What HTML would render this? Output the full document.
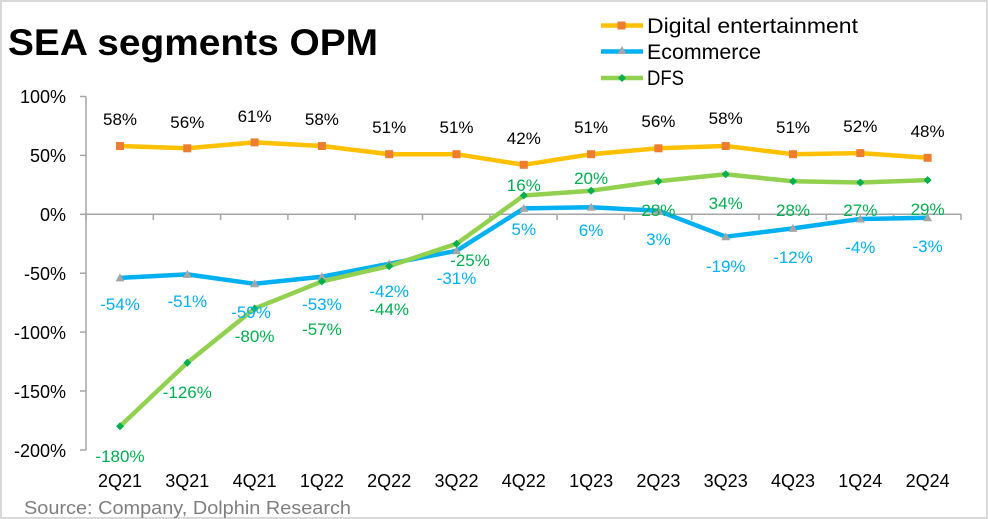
<!DOCTYPE html>
<html><head><meta charset="utf-8"><style>
html,body{margin:0;padding:0;background:#fff}
svg{display:block}
text{font-family:"Liberation Sans",sans-serif}
</style></head><body>
<svg width="988" height="519" viewBox="0 0 988 519" xmlns="http://www.w3.org/2000/svg">
<rect x="1" y="1" width="986" height="517" fill="#fff" stroke="#d9d9d9" stroke-width="2"/>
<text x="8" y="55" font-size="37" font-weight="bold" fill="#000" textLength="370" lengthAdjust="spacingAndGlyphs">SEA segments OPM</text>
<g stroke="#a6a6a6" stroke-width="1.5" fill="none">
<line x1="86" y1="96.5" x2="86" y2="450"/>
<line x1="80" y1="96.5" x2="86" y2="96.5"/>
<line x1="80" y1="155.4" x2="86" y2="155.4"/>
<line x1="80" y1="214.3" x2="86" y2="214.3"/>
<line x1="80" y1="273.2" x2="86" y2="273.2"/>
<line x1="80" y1="332.1" x2="86" y2="332.1"/>
<line x1="80" y1="391" x2="86" y2="391"/>
<line x1="80" y1="450" x2="86" y2="450"/>
<line x1="86" y1="214.3" x2="961" y2="214.3"/>
<path d="M86 214v6M153.3 214v6M220.6 214v6M287.9 214v6M355.2 214v6M422.5 214v6M489.8 214v6M557.1 214v6M624.4 214v6M691.7 214v6M759 214v6M826.3 214v6M893.6 214v6M961 214v6"/>
</g>
<g font-size="18" fill="#000" text-anchor="end">
<text x="66" y="103">100%</text><text x="66" y="162">50%</text><text x="66" y="221">0%</text>
<text x="66" y="280">-50%</text><text x="66" y="339">-100%</text><text x="66" y="398">-150%</text><text x="66" y="457">-200%</text>
</g>
<g font-size="18" fill="#000" text-anchor="middle">
<text x="120" y="487">2Q21</text><text x="187.3" y="487">3Q21</text><text x="254.6" y="487">4Q21</text><text x="321.9" y="487">1Q22</text><text x="389.2" y="487">2Q22</text><text x="456.5" y="487">3Q22</text><text x="523.8" y="487">4Q22</text><text x="591.1" y="487">1Q23</text><text x="658.4" y="487">2Q23</text><text x="725.7" y="487">3Q23</text><text x="793" y="487">4Q23</text><text x="860.3" y="487">1Q24</text><text x="927.6" y="487">2Q24</text>
</g>
<text x="24" y="514" font-size="18" fill="#7f7f7f" textLength="327" lengthAdjust="spacingAndGlyphs">Source: Company, Dolphin Research</text>
<polyline fill="none" stroke="#ffc000" stroke-width="4.5" stroke-linejoin="round" points="120,146 187.3,148.3 254.6,142.4 321.9,146 389.2,154.2 456.5,154.2 523.8,164.8 591.1,154.2 658.4,148.3 725.7,146 793,154.2 860.3,153.1 927.6,157.8"/>
<polyline fill="none" stroke="#00b0f0" stroke-width="4.5" stroke-linejoin="round" points="120,277.9 187.3,274.4 254.6,283.8 321.9,276.7 389.2,263.8 456.5,250.8 523.8,208.4 591.1,207.2 658.4,210.8 725.7,236.7 793,228.4 860.3,219 927.6,217.8"/>
<polyline fill="none" stroke="#92d050" stroke-width="4.5" stroke-linejoin="round" points="120,426.3 187.3,362.7 254.6,308.5 321.9,281.4 389.2,266.1 456.5,243.8 523.8,195.5 591.1,190.7 658.4,181.3 725.7,174.3 793,181.3 860.3,182.5 927.6,180.1"/>
<g fill="#ed7d31">
<rect x="116" y="142" width="8" height="8"/><rect x="183.3" y="144.3" width="8" height="8"/><rect x="250.6" y="138.4" width="8" height="8"/><rect x="317.9" y="142" width="8" height="8"/><rect x="385.2" y="150.2" width="8" height="8"/><rect x="452.5" y="150.2" width="8" height="8"/><rect x="519.8" y="160.8" width="8" height="8"/><rect x="587.1" y="150.2" width="8" height="8"/><rect x="654.4" y="144.3" width="8" height="8"/><rect x="721.7" y="142" width="8" height="8"/><rect x="789" y="150.2" width="8" height="8"/><rect x="856.3" y="149.1" width="8" height="8"/><rect x="923.6" y="153.8" width="8" height="8"/>
</g>
<g fill="#a5a5a5">
<path d="M120 273.4l4.5 8h-9z"/><path d="M187.3 269.9l4.5 8h-9z"/><path d="M254.6 279.3l4.5 8h-9z"/><path d="M321.9 272.2l4.5 8h-9z"/><path d="M389.2 259.3l4.5 8h-9z"/><path d="M456.5 246.3l4.5 8h-9z"/><path d="M523.8 203.9l4.5 8h-9z"/><path d="M591.1 202.7l4.5 8h-9z"/><path d="M658.4 206.3l4.5 8h-9z"/><path d="M725.7 232.2l4.5 8h-9z"/><path d="M793 223.9l4.5 8h-9z"/><path d="M860.3 214.5l4.5 8h-9z"/><path d="M927.6 213.3l4.5 8h-9z"/>
</g>
<g fill="#00b050">
<path d="M120 422.3l4 4-4 4-4-4z"/><path d="M187.3 358.7l4 4-4 4-4-4z"/><path d="M254.6 304.5l4 4-4 4-4-4z"/><path d="M321.9 277.4l4 4-4 4-4-4z"/><path d="M389.2 262.1l4 4-4 4-4-4z"/><path d="M456.5 239.8l4 4-4 4-4-4z"/><path d="M523.8 191.5l4 4-4 4-4-4z"/><path d="M591.1 186.7l4 4-4 4-4-4z"/><path d="M658.4 177.3l4 4-4 4-4-4z"/><path d="M725.7 170.3l4 4-4 4-4-4z"/><path d="M793 177.3l4 4-4 4-4-4z"/><path d="M860.3 178.5l4 4-4 4-4-4z"/><path d="M927.6 176.1l4 4-4 4-4-4z"/>
</g>
<g font-size="17" fill="#000" text-anchor="middle">
<text x="120" y="125">58%</text><text x="187.3" y="128">56%</text><text x="254.6" y="122">61%</text><text x="321.9" y="125">58%</text><text x="389.2" y="133">51%</text><text x="456.5" y="133">51%</text><text x="523.8" y="144">42%</text><text x="591.1" y="133">51%</text><text x="658.4" y="127">56%</text><text x="725.7" y="124">58%</text><text x="793" y="133">51%</text><text x="860.3" y="132">52%</text><text x="927.6" y="137">48%</text>
</g>
<g font-size="17" fill="#00b0f0" text-anchor="middle">
<text x="120" y="310">-54%</text><text x="187.3" y="307">-51%</text><text x="251" y="318">-59%</text><text x="321.9" y="310">-53%</text><text x="389.2" y="297">-42%</text><text x="456.5" y="284">-31%</text><text x="523.8" y="235">5%</text><text x="591.1" y="236">6%</text><text x="658.4" y="245">3%</text><text x="725.7" y="272">-19%</text><text x="793" y="263">-12%</text><text x="860.3" y="253">-4%</text><text x="927.6" y="252">-3%</text>
</g>
<g font-size="17" fill="#00b050" text-anchor="middle">
<text x="120" y="462">-180%</text><text x="187.3" y="398">-126%</text><text x="254.6" y="342">-80%</text><text x="321.9" y="335">-57%</text><text x="389.2" y="315">-44%</text><text x="470" y="266">-25%</text><text x="523.8" y="191">16%</text><text x="591.1" y="184">20%</text><text x="658.4" y="216">28%</text><text x="725.7" y="209">34%</text><text x="793" y="216">28%</text><text x="860.3" y="216">27%</text><text x="927.6" y="215">29%</text>
</g>
<line x1="601" y1="25.5" x2="643" y2="25.5" stroke="#ffc000" stroke-width="4.5"/><rect x="617.5" y="21.5" width="8" height="8" fill="#ed7d31"/>
<line x1="601" y1="51.5" x2="643" y2="51.5" stroke="#00b0f0" stroke-width="4.5"/><path d="M622 46l4.5 8h-9z" fill="#a5a5a5"/>
<line x1="601" y1="78" x2="643" y2="78" stroke="#92d050" stroke-width="4.5"/><path d="M622 74l4 4-4 4-4-4z" fill="#00b050"/>
<g font-size="21" fill="#000">
<text x="647" y="33" textLength="211" lengthAdjust="spacingAndGlyphs">Digital entertainment</text><text x="647" y="59" textLength="114" lengthAdjust="spacingAndGlyphs">Ecommerce</text><text x="647" y="85" textLength="37" lengthAdjust="spacingAndGlyphs">DFS</text>
</g>
</svg>
</body></html>
